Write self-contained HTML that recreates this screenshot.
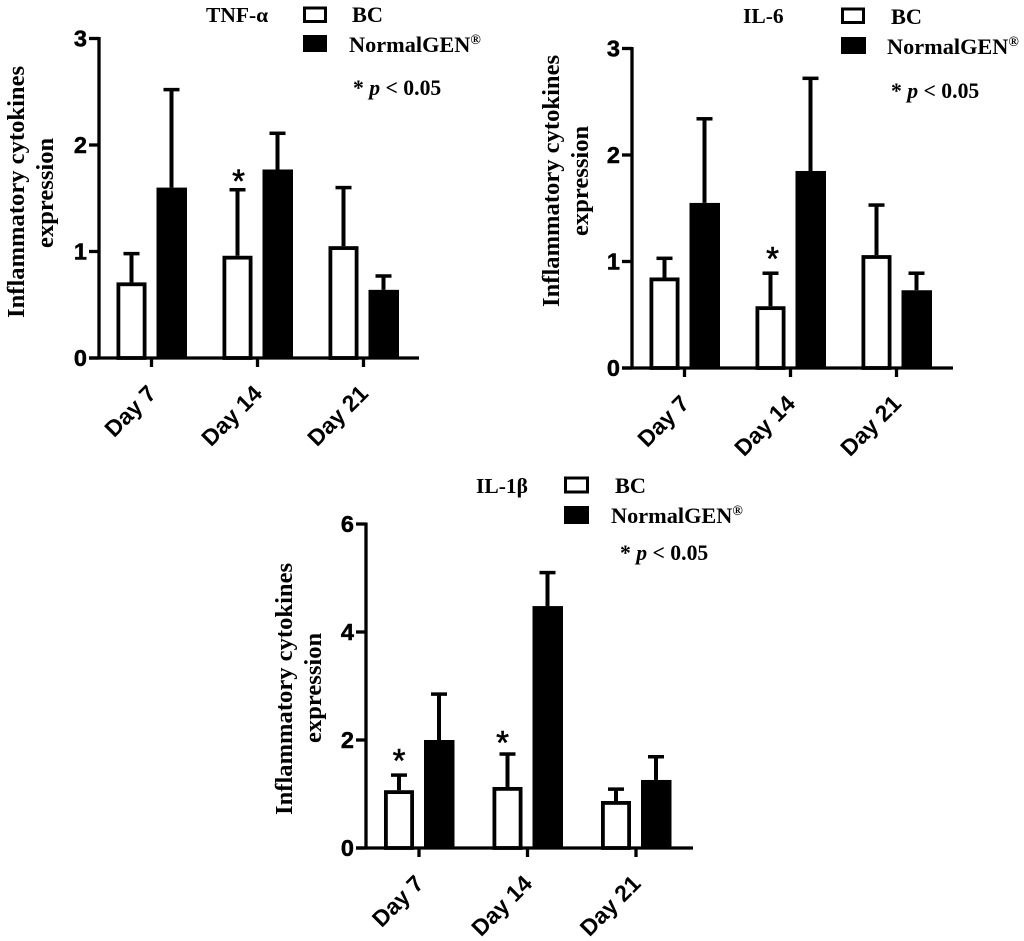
<!DOCTYPE html>
<html lang="en">
<head>
<meta charset="utf-8">
<title>Inflammatory cytokines expression</title>
<style>
html,body{margin:0;padding:0;background:#fff;}
svg{display:block;}
.serif{font-family:"Liberation Serif",serif;font-weight:bold;fill:#000;}
.sans{font-family:"Liberation Sans",sans-serif;font-weight:bold;fill:#000;}
.title{font-size:21.5px;}
.leg{font-size:22.3px;}
.p{font-size:21.7px;}
.yt{font-size:24.6px;}
.tick{font-size:23.5px;stroke:#000;stroke-width:.5px;}
.cat{font-size:23px;}
.star{font-size:33px;font-weight:normal;stroke:#000;stroke-width:.6px;}
</style>
</head>
<body>
<svg id="fig" width="1024" height="941" viewBox="0 0 1024 941" xmlns="http://www.w3.org/2000/svg">
  <rect width="1024" height="941" fill="#fff"/>

  <g id="tnf">
    <text class="serif title" x="206" y="22">TNF-α</text>
    <rect x="304.5" y="8" width="21" height="13.5" fill="#fff" stroke="#000" stroke-width="3"/>
    <rect x="303" y="35" width="24" height="17" fill="#000"/>
    <text class="serif leg" x="352" y="22">BC</text>
    <text class="serif leg" x="349" y="52">NormalGEN<tspan dy="-8" font-size="14">®</tspan></text>
    <text class="serif p" x="353" y="95">* <tspan font-style="italic">p</tspan> &lt; 0.05</text>
    <text class="serif yt" transform="translate(24,318) rotate(-90)">Inflammatory cytokines</text>
    <text class="serif yt" transform="translate(53,248) rotate(-90)">expression</text>
  </g>

  <g id="il6">
    <text class="serif title" x="743" y="23">IL-6</text>
    <rect x="842.5" y="9" width="21" height="13.5" fill="#fff" stroke="#000" stroke-width="3"/>
    <rect x="841" y="37" width="25" height="17" fill="#000"/>
    <text class="serif leg" x="891" y="24">BC</text>
    <text class="serif leg" x="887" y="54">NormalGEN<tspan dy="-8" font-size="14">®</tspan></text>
    <text class="serif p" x="891" y="98">* <tspan font-style="italic">p</tspan> &lt; 0.05</text>
    <text class="serif yt" transform="translate(559,307) rotate(-90)">Inflammatory cytokines</text>
    <text class="serif yt" transform="translate(588,236) rotate(-90)">expression</text>
  </g>

  <g id="il1b">
    <text class="serif title" x="476" y="493">IL-1β</text>
    <rect x="565.5" y="478" width="22" height="14" fill="#fff" stroke="#000" stroke-width="3"/>
    <rect x="564" y="506" width="25" height="18" fill="#000"/>
    <text class="serif leg" x="615" y="493">BC</text>
    <text class="serif leg" x="611" y="523">NormalGEN<tspan dy="-8" font-size="14">®</tspan></text>
    <text class="serif p" x="620" y="560">* <tspan font-style="italic">p</tspan> &lt; 0.05</text>
    <text class="serif yt" transform="translate(292,815) rotate(-90)">Inflammatory cytokines</text>
    <text class="serif yt" transform="translate(321,743) rotate(-90)">expression</text>
  </g>
</svg>

<script>
// Shared categories
const categories = ["Day 7", "Day 14", "Day 21"];

// TNF-alpha values
const tnfTicks = [0, 1, 2, 3];
const tnfBc = [0.71, 0.96, 1.05];
const tnfBcUpper = [0.98, 1.58, 1.60];
const tnfGen = [1.60, 1.77, 0.64];
const tnfGenUpper = [2.52, 2.11, 0.77];
const tnfBcSig = [false, true, false];

// IL-6 values
const il6Ticks = [0, 1, 2, 3];
const il6Bc = [0.85, 0.58, 1.06];
const il6BcUpper = [1.03, 0.89, 1.53];
const il6Gen = [1.55, 1.85, 0.73];
const il6GenUpper = [2.34, 2.72, 0.89];
const il6BcSig = [false, true, false];

// IL-1beta values
const il1bTicks = [0, 2, 4, 6];
const il1bBc = [1.07, 1.13, 0.87];
const il1bBcUpper = [1.35, 1.74, 1.09];
const il1bGen = [2.00, 4.48, 1.26];
const il1bGenUpper = [2.85, 5.10, 1.69];
const il1bBcSig = [true, true, false];

const NS = "http://www.w3.org/2000/svg";

function mk(parent, tag, attrs, text) {
  const el = document.createElementNS(NS, tag);
  for (const k in attrs) el.setAttribute(k, attrs[k]);
  if (text !== undefined) el.textContent = text;
  parent.appendChild(el);
  return el;
}

function drawChart(cfg) {
  const g = document.getElementById(cfg.id);
  const yMax = cfg.ticks[cfg.ticks.length - 1];
  const yScale = v => cfg.y0 - (v / yMax) * (cfg.y0 - cfg.yTop);
  const xScale = i => cfg.xFirst + i * cfg.xStep;
  const barW = 30, sw = 3.8, offset = 20, capW = 16;

  function drawBar(i, val, upper, isBc) {
    const cx = xScale(i) + (isBc ? -offset : offset);
    const top = yScale(val);
    const upY = yScale(upper);
    const label = categories[i].toLowerCase().replace(" ", "-") + (isBc ? "-bc" : "-normalgen");

    const stem = mk(g, "line", {x1: cx, x2: cx, y1: top, y2: upY, stroke: "#000", "stroke-width": 4});
    
    

    const cap = mk(g, "line", {x1: cx - capW / 2, x2: cx + capW / 2, y1: upY, y2: upY, stroke: "#000", "stroke-width": 3.5});
    
    

    const bar = mk(g, "rect", isBc
      ? {x: cx - barW / 2 + sw / 2, y: top + sw / 2, width: barW - sw, height: Math.max(0, cfg.y0 - top - sw / 2), fill: "#fff", stroke: "#000", "stroke-width": sw}
      : {x: cx - barW / 2, y: top, width: barW + 0.5, height: cfg.y0 - top, fill: "#000"});
    
    
  }

  cfg.bc.forEach((v, i) => drawBar(i, v, cfg.bcUpper[i], true));
  cfg.gen.forEach((v, i) => drawBar(i, v, cfg.genUpper[i], false));

  cfg.sig.forEach((s, i) => {
    if (!s) return;
    const star = mk(g, "text", {
      class: "sans star", "text-anchor": "middle",
      x: xScale(i) - offset + cfg.starDx[i],
      y: yScale(cfg.bcUpper[i]) - cfg.starDy[i] + 18
    }, "*");
    
    
  });

  const yAxis = mk(g, "line", {x1: cfg.xAxis, x2: cfg.xAxis, y1: cfg.yTop - 1.5, y2: cfg.y0 + 1.5, stroke: "#000", "stroke-width": 3.3});
  
  

  const xAxis = mk(g, "line", {x1: cfg.xAxis - 10, x2: cfg.xEnd, y1: cfg.y0, y2: cfg.y0, stroke: "#000", "stroke-width": 3.3});
  
  

  cfg.ticks.forEach(t => {
    const y = yScale(t);
    const tick = mk(g, "line", {x1: cfg.xAxis - 10, x2: cfg.xAxis, y1: y, y2: y, stroke: "#000", "stroke-width": 3.3});
    
    

    const lab = mk(g, "text", {class: "sans tick", "text-anchor": "end", x: cfg.xAxis - 12, y: y + 8}, String(t));
    
    
  });

  categories.forEach((c, i) => {
    const x = xScale(i);
    const tick = mk(g, "line", {x1: x, x2: x, y1: cfg.y0, y2: cfg.y0 + 9, stroke: "#000", "stroke-width": 3.3});
    
    

    const lab = mk(g, "text", {class: "sans cat", "text-anchor": "end", transform: "translate(" + (x + 6) + "," + (cfg.y0 + 37) + ") rotate(-45)"}, c);
    
    
  });
}

drawChart({id: "tnf", ticks: tnfTicks, bc: tnfBc, bcUpper: tnfBcUpper, gen: tnfGen, genUpper: tnfGenUpper, sig: tnfBcSig,
  xAxis: 99, xEnd: 419, y0: 358, yTop: 38.5, xFirst: 151.5, xStep: 106, starDx: [0, 1, 0], starDy: [0, 15, 0]});
drawChart({id: "il6", ticks: il6Ticks, bc: il6Bc, bcUpper: il6BcUpper, gen: il6Gen, genUpper: il6GenUpper, sig: il6BcSig,
  xAxis: 632, xEnd: 953, y0: 368, yTop: 48.5, xFirst: 684.5, xStep: 106, starDx: [0, 2, 0], starDy: [0, 21, 0]});
drawChart({id: "il1b", ticks: il1bTicks, bc: il1bBc, bcUpper: il1bBcUpper, gen: il1bGen, genUpper: il1bGenUpper, sig: il1bBcSig,
  xAxis: 366, xEnd: 693, y0: 848, yTop: 524, xFirst: 419, xStep: 108.5, starDx: [0, -5, 0], starDy: [21, 18, 0]});
</script>
</body>
</html>
